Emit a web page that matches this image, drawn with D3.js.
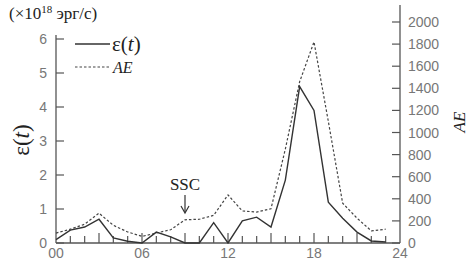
<!DOCTYPE html>
<html>
<head>
<meta charset="utf-8">
<script src="https://cdn.jsdelivr.net/npm/d3@7"></script>
<style>
  body { margin: 0; background: #fff; }
  svg text { fill: #222; }
  .serif { font-family: "Liberation Serif", "Times New Roman", serif; }
  .sans { font-family: "Liberation Sans", "DejaVu Sans", sans-serif; }
</style>
</head>
<body>
<div id="viz"></div>
<script>
// hours of the day
const hours = d3.range(0, 24);
// ε(t), ×10^18 erg/s
const epsilon = [0.1, 0.38, 0.47, 0.7, 0.15, 0.05, 0.0, 0.32, 0.18, 0.0, 0.0, 0.6,
  0.0, 0.65, 0.76, 0.47, 1.85, 4.6, 3.9, 1.2, 0.73, 0.32, 0.06, 0.03];
// AE index, nT
const ae = [90, 125, 170, 270, 160, 100, 60, 90, 120, 210, 215, 250,
  435, 290, 280, 310, 850, 1460, 1820, 1100, 360, 225, 110, 125];
const xTicks = [0, 6, 12, 18, 24];
const leftTicks = [0, 1, 2, 3, 4, 5, 6];
const rightTicks = d3.range(0, 2001, 200);

const width = 468;
const height = 269;

const svg = d3.select('#viz')
  .append('svg')
  .attr('width', width)
  .attr('height', height);

const x = d3.scaleLinear().domain([0, 24]).range([56, 400]);
const yL = d3.scaleLinear().domain([0, 6]).range([243, 39]);
const yR = d3.scaleLinear().domain([0, 2000]).range([243, 22]);

const axisColor = '#555';
const labelColor = '#777';

// bottom axis with hourly inward ticks
svg.append('line')
  .attr('x1', x(0)).attr('x2', x(24))
  .attr('y1', yL(0)).attr('y2', yL(0))
  .attr('stroke', axisColor).attr('stroke-width', 1.3);

svg.selectAll('.hour-tick')
  .data(d3.range(1, 24))
  .enter()
  .append('line')
  .attr('x1', d => x(d)).attr('x2', d => x(d))
  .attr('y1', yL(0))
  .attr('y2', d => yL(0) - (d % 3 === 0 ? 10 : 7))
  .attr('stroke', axisColor).attr('stroke-width', 1.2);

svg.selectAll('.x-label')
  .data(xTicks)
  .enter()
  .append('text')
  .attr('class', 'sans')
  .attr('x', d => x(d))
  .attr('y', 258)
  .attr('text-anchor', 'middle')
  .style('font-size', '14px')
  .style('fill', labelColor)
  .text(d => d3.format('02d')(d));

// left axis
svg.append('line')
  .attr('x1', x(0)).attr('x2', x(0))
  .attr('y1', 35).attr('y2', yL(0))
  .attr('stroke', axisColor).attr('stroke-width', 1.3);

svg.selectAll('.l-tick')
  .data(leftTicks)
  .enter()
  .append('line')
  .attr('x1', x(0)).attr('x2', x(0) + 8)
  .attr('y1', d => yL(d)).attr('y2', d => yL(d))
  .attr('stroke', axisColor).attr('stroke-width', 1.2);

svg.selectAll('.l-label')
  .data(leftTicks)
  .enter()
  .append('text')
  .attr('class', 'sans')
  .attr('x', 47)
  .attr('y', d => yL(d) + 5)
  .attr('text-anchor', 'end')
  .style('font-size', '14px')
  .style('fill', labelColor)
  .text(d => d);

// right axis
svg.append('line')
  .attr('x1', x(24)).attr('x2', x(24))
  .attr('y1', 5).attr('y2', yL(0))
  .attr('stroke', axisColor).attr('stroke-width', 1.3);

svg.selectAll('.r-tick')
  .data(rightTicks)
  .enter()
  .append('line')
  .attr('x1', x(24) - 8).attr('x2', x(24))
  .attr('y1', d => yR(d)).attr('y2', d => yR(d))
  .attr('stroke', axisColor).attr('stroke-width', 1.2);

svg.selectAll('.r-label')
  .data(rightTicks)
  .enter()
  .append('text')
  .attr('class', 'sans')
  .attr('x', 408)
  .attr('y', d => yR(d) + 5)
  .style('font-size', '14px')
  .style('fill', labelColor)
  .text(d => d);

// series
const lineEps = d3.line().x((d, i) => x(hours[i])).y(d => yL(d));
const lineAE = d3.line().x((d, i) => x(hours[i])).y(d => yR(d));

svg.append('path')
  .datum(ae)
  .attr('d', lineAE)
  .attr('fill', 'none')
  .attr('stroke', '#444')
  .attr('stroke-width', 1.2)
  .attr('stroke-dasharray', '2.5,2');

svg.append('path')
  .datum(epsilon)
  .attr('d', lineEps)
  .attr('fill', 'none')
  .attr('stroke', '#333')
  .attr('stroke-width', 1.4);

// legend
svg.append('line')
  .attr('x1', 75).attr('x2', 110).attr('y1', 44).attr('y2', 44)
  .attr('stroke', '#333').attr('stroke-width', 1.4);
svg.append('text')
  .attr('class', 'serif')
  .attr('x', 112).attr('y', 51)
  .style('font-size', '21px')
  .html('ε(<tspan font-style="italic">t</tspan>)');
svg.append('line')
  .attr('x1', 75).attr('x2', 110).attr('y1', 67).attr('y2', 67)
  .attr('stroke', '#444').attr('stroke-width', 1.2)
  .attr('stroke-dasharray', '2.5,2');
svg.append('text')
  .attr('class', 'serif')
  .attr('x', 113).attr('y', 73)
  .style('font-style', 'italic')
  .style('font-size', '16px')
  .text('AE');

// units
svg.append('text')
  .attr('class', 'serif')
  .attr('x', 9).attr('y', 19)
  .style('font-size', '17px')
  .html('(×10<tspan dy="-6" font-size="11px">18</tspan><tspan dy="6"> эрг/с)</tspan>');

// axis titles
svg.append('text')
  .attr('class', 'serif')
  .attr('transform', 'translate(29,140) rotate(-90)')
  .attr('text-anchor', 'middle')
  .style('font-size', '23px')
  .html('ε(<tspan font-style="italic">t</tspan>)');
svg.append('text')
  .attr('class', 'serif')
  .attr('transform', 'translate(465,122) rotate(-90)')
  .attr('text-anchor', 'middle')
  .style('font-style', 'italic')
  .style('font-size', '17px')
  .text('AE');

// SSC marker
svg.append('text')
  .attr('class', 'serif')
  .attr('x', x(9)).attr('y', 190)
  .attr('text-anchor', 'middle')
  .style('font-size', '17px')
  .text('SSC');
svg.append('line')
  .attr('x1', x(9)).attr('x2', x(9)).attr('y1', 195).attr('y2', 212)
  .attr('stroke', '#333').attr('stroke-width', 1.2);
svg.append('path')
  .attr('d', `M${x(9) - 4},206 L${x(9)},213 L${x(9) + 4},206`)
  .attr('fill', 'none')
  .attr('stroke', '#333').attr('stroke-width', 1.2);
</script>
</body>
</html>
